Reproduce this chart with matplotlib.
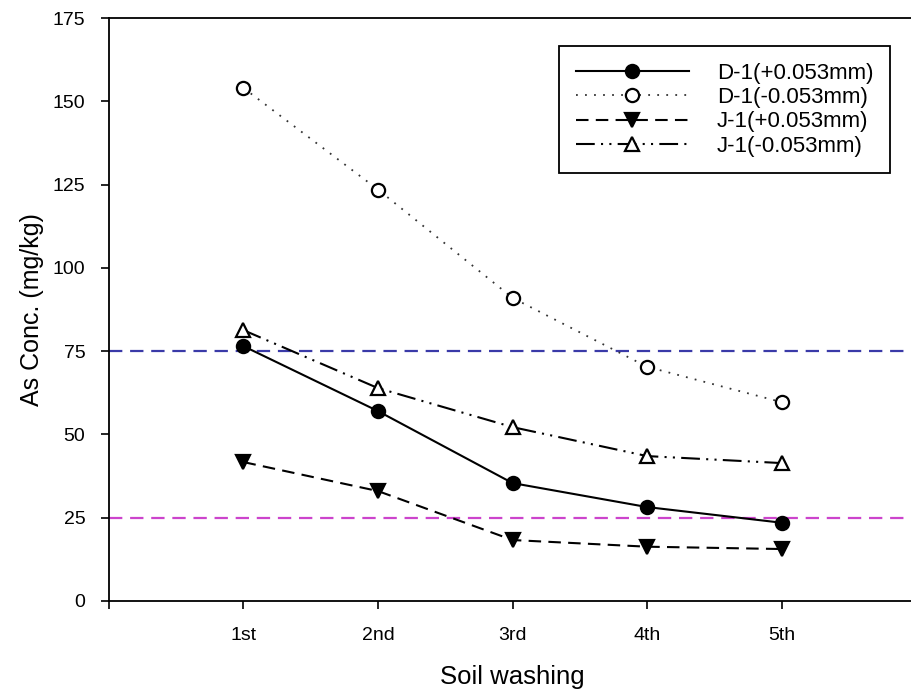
import matplotlib
matplotlib.use("Agg")
import matplotlib.pyplot as plt

plt.rcParams["font.family"] = ["Liberation Sans", "DejaVu Sans"]

rounds = ["1st", "2nd", "3rd", "4th", "5th"]
d1_plus = [76.5, 57.0, 35.4, 28.2, 23.5]
d1_minus = [154.0, 123.5, 91.0, 70.3, 59.7]
j1_plus = [41.7, 33.0, 18.3, 16.3, 15.6]
j1_minus = [81.3, 63.9, 52.2, 43.5, 41.4]
limit_upper = 75
limit_lower = 25

x = list(range(1, len(rounds) + 1))

fig = plt.figure(figsize=(9.11, 6.96), dpi=100)
ax = fig.add_axes([0.1196, 0.1365, 0.886, 0.8376])

ax.axhline(limit_upper, color="#3a3aa8", ls=(0, (6, 3.5)), lw=1.6, zorder=1)
ax.axhline(limit_lower, color="#cc44cc", ls=(0, (6, 3.5)), lw=1.6, zorder=1)

mk = dict(ms=9.5, mew=1.6, mec="black")
ax.plot(x, d1_plus, color="black", ls="-", lw=1.5, marker="o",
        mfc="black", label="D-1(+0.053mm)", **mk)
ax.plot(x, d1_minus, color="#333333", ls=(0, (1, 4)), lw=1.3, marker="o",
        mfc="white", label="D-1(-0.053mm)", **mk)
ax.plot(x, j1_plus, color="black", ls=(0, (6, 3.5)), lw=1.5, marker="v",
        mfc="black", label="J-1(+0.053mm)", **mk)
ax.plot(x, j1_minus, color="black", ls=(0, (9, 3, 1, 3, 1, 3)), lw=1.5, marker="^",
        mfc="white", label="J-1(-0.053mm)", **mk)

ax.set_xlim(0, 6)
ax.set_ylim(0, 175)
ax.set_yticks(range(0, 176, 25))
ax.set_xticks([0] + x)
ax.set_xticklabels([""] + rounds)
ax.tick_params(axis="both", direction="out", length=6, width=1.2, labelsize=14)
ax.tick_params(axis="y", pad=11)
ax.tick_params(axis="x", pad=13)
for side in ["left", "bottom", "top"]:
    ax.spines[side].set_linewidth(1.3)
ax.spines["right"].set_visible(False)

ax.set_xlabel("Soil washing", fontsize=18.5, labelpad=15)
ax.set_ylabel("As Conc. (mg/kg)", fontsize=18, labelpad=6)

leg = ax.legend(loc="upper right", bbox_to_anchor=(901 / 911, 1 - 35 / 696),
                bbox_transform=fig.transFigure, fontsize=16, handlelength=5.1,
                handletextpad=1.25, borderpad=0.75, labelspacing=0.15,
                fancybox=False, edgecolor="black", framealpha=1)
leg.get_frame().set_linewidth(1.3)

fig.savefig("out.png", dpi=100)
